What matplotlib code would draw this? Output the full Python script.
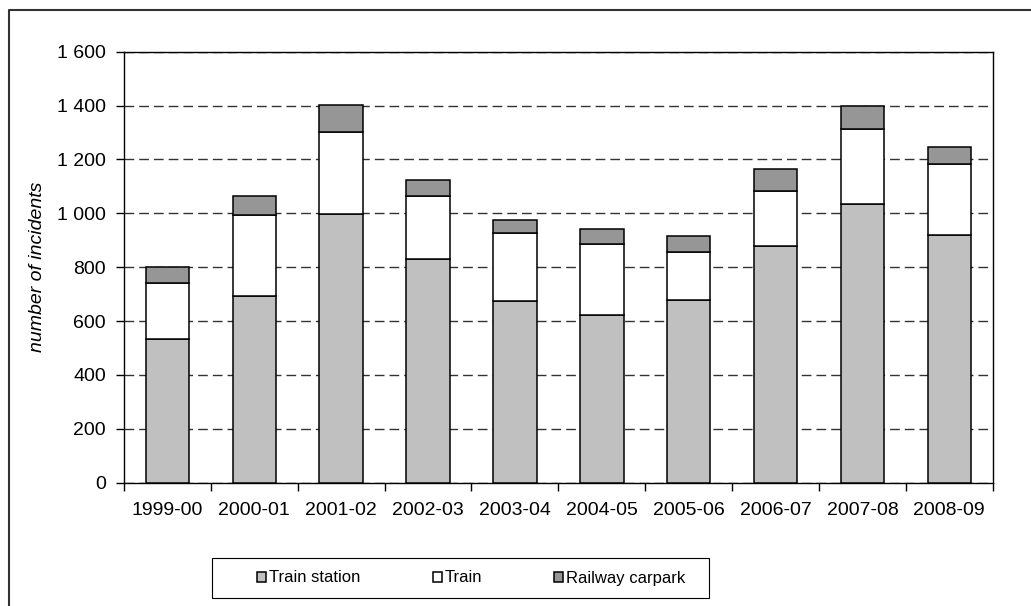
import matplotlib
matplotlib.use("Agg")
import matplotlib.pyplot as plt
from matplotlib.lines import Line2D
from matplotlib.patches import Rectangle
from matplotlib.ticker import FuncFormatter, MultipleLocator
import numpy as np

plt.rcParams['font.family'] = ['Liberation Sans', 'DejaVu Sans']

years = ['1999-00', '2000-01', '2001-02', '2002-03', '2003-04',
         '2004-05', '2005-06', '2006-07', '2007-08', '2008-09']
train_station = [534, 693, 997, 831, 676, 622, 677, 878, 1033, 921]
train = [208, 300, 304, 233, 251, 263, 178, 204, 280, 262]
railway_carpark = [59, 71, 102, 58, 47, 58, 60, 82, 84, 64]

series = [('Train station', train_station, '#c0c0c0'),
          ('Train', train, '#ffffff'),
          ('Railway carpark', railway_carpark, '#969696')]

W, H = 1031, 606
fig = plt.figure(figsize=(W / 100, H / 100), dpi=100)
ax = fig.add_axes([124 / W, 1 - 482.7 / H, (992.7 - 124) / W, (482.7 - 51.7) / H])

x = np.arange(len(years))
bottom = np.zeros(len(years))
for name, vals, color in series:
    ax.bar(x, vals, width=0.5, bottom=bottom, color=color, edgecolor='black',
           linewidth=1.1, label=name, zorder=3)
    bottom += np.array(vals)

ax.set_xlim(-0.5, len(years) - 0.5)
ax.set_ylim(0, 1600)
ax.yaxis.set_major_locator(MultipleLocator(200))
ax.yaxis.set_major_formatter(FuncFormatter(lambda v, p: f"{int(v):,}".replace(',', ' ')))
ax.grid(axis='y', color='#333333', linestyle=(0, (7, 3.6)), linewidth=1.0, zorder=0)

ax.set_xticks(x)
ax.set_xticklabels(years)
ax.set_xticks(np.arange(-0.5, len(years), 1), minor=True)
ax.tick_params(axis='x', which='major', length=0, pad=14, labelsize=14)
ax.tick_params(axis='x', which='minor', length=6, width=1, direction='out')
ax.tick_params(axis='y', length=6, width=1, direction='out', pad=7, labelsize=14)

for s in ax.spines.values():
    s.set_color('black')
    s.set_linewidth(1.0)

fig.text(38 / W, 1 - 267 / H, 'number of incidents', rotation=90, style='italic',
         ha='center', va='center', fontsize=14)

# legend frame drawn separately so its box matches the original
fig.patches.append(Rectangle((212 / W, 1 - 598 / H), (709 - 212) / W, 40 / H,
                             transform=fig.transFigure, facecolor='white',
                             edgecolor='black', linewidth=0.8))
fig.legend(loc='center left', bbox_to_anchor=(249 / W, 1 - 578 / H), ncol=3,
           frameon=False, fontsize=12, borderpad=0, handlelength=0.54,
           handleheight=0.54, handletextpad=0.15, columnspacing=4.35)

# outer chart border (top and left edges visible)
fig.lines.append(Line2D([8.5 / W, 8.5 / W, 1.0], [0.0, 1 - 9.5 / H, 1 - 9.5 / H],
                        transform=fig.transFigure, color='#333333', linewidth=1.5))

fig.savefig('out.png', dpi=100)
